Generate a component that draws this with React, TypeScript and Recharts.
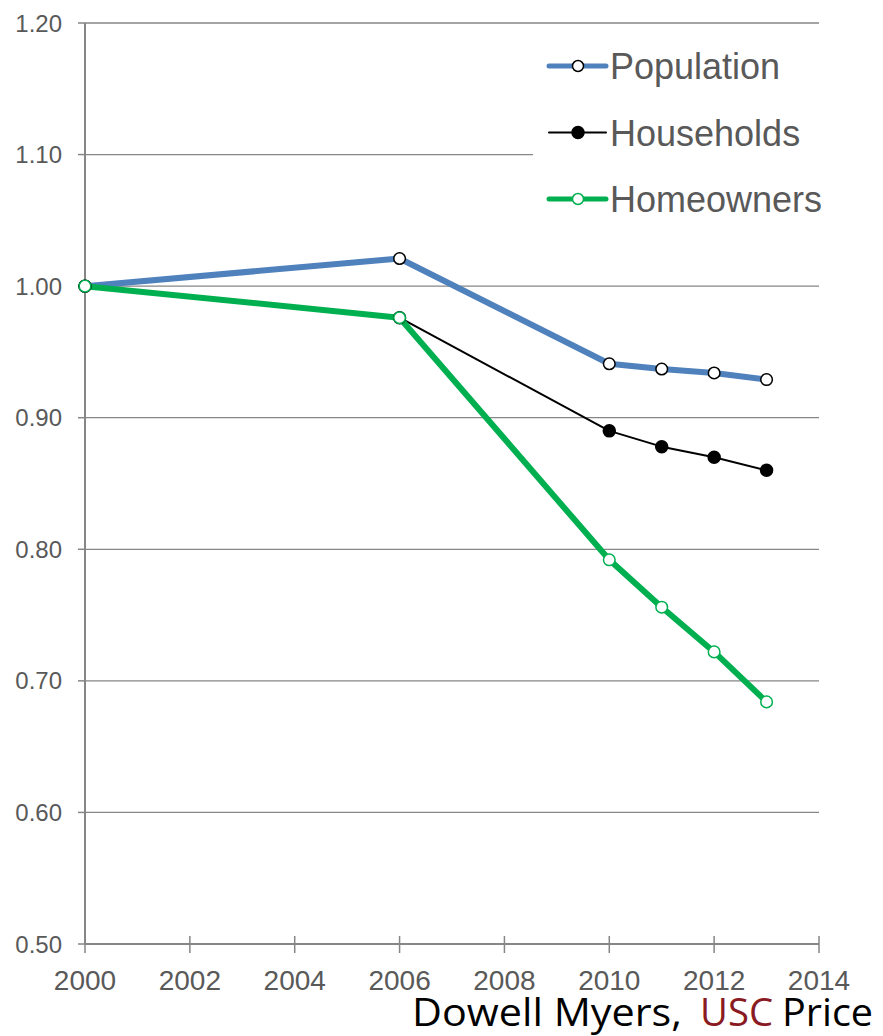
import { LineChart, Line, XAxis, YAxis, CartesianGrid, Legend } from 'recharts';

const years = [2000, 2006, 2010, 2011, 2012, 2013];
const population = [1.0, 1.021, 0.941, 0.937, 0.934, 0.929];
const households = [1.0, 0.976, 0.89, 0.878, 0.87, 0.86];
const homeowners = [1.0, 0.976, 0.792, 0.756, 0.722, 0.684];
const xTicks = [2000, 2002, 2004, 2006, 2008, 2010, 2012, 2014];
const yTicks = [0.5, 0.6, 0.7, 0.8, 0.9, 1.0, 1.1, 1.2];

const data = years.map((year, i) => ({
  year,
  population: population[i],
  households: households[i],
  homeowners: homeowners[i],
}));

const axisColor = '#868686';
const textColor = '#595959';
const font = '"Liberation Sans", Arial, sans-serif';

const series = [
  { key: 'population', name: 'Population', color: '#4F81BD', width: 6, dotFill: '#fff', dotStroke: '#000' },
  { key: 'households', name: 'Households', color: '#000', width: 2, dotFill: '#000', dotStroke: '#000' },
  { key: 'homeowners', name: 'Homeowners', color: '#00B050', width: 6, dotFill: '#fff', dotStroke: '#00B050' },
];

function XTick(props: any) {
  const { x, y, payload } = props;
  return (
    <g>
      <line x1={x} x2={x} y1={y - 8} y2={y + 9} stroke={axisColor} strokeWidth={1.5} />
      <text x={x} y={y + 46} textAnchor="middle" fill={textColor} fontSize={28} fontFamily={font}>
        {payload.value}
      </text>
    </g>
  );
}

function LegendBox() {
  return (
    <svg width={300} height={200}>
      {series.map((s, i) => {
        const cy = 33 + i * 66.5;
        return (
          <g key={s.key}>
            <line x1={16} x2={73} y1={cy} y2={cy} stroke={s.color} strokeWidth={s.width === 2 ? 2 : 5} strokeLinecap="round" />
            <circle cx={45} cy={cy} r={s.width === 2 ? 6 : 5.5} fill={s.dotFill} stroke={s.dotStroke} strokeWidth={1.5} />
            <text x={77} y={cy + 13} fill={textColor} fontSize={36} fontFamily={font}>
              {s.name}
            </text>
          </g>
        );
      })}
    </svg>
  );
}

export default function App() {
  return (
    <div style={{ position: 'absolute', left: 0, top: 0, width: 883, height: 1036, background: '#fff' }}>
      <LineChart width={883} height={1036} data={data} margin={{ top: 23, right: 64, left: 0, bottom: 42 }}>
        <CartesianGrid horizontal vertical={false} stroke={axisColor} strokeWidth={1.3} />
        <XAxis
          dataKey="year"
          type="number"
          domain={[2000, 2014]}
          ticks={xTicks}
          height={50}
          tickLine={false}
          tickSize={0}
          tickMargin={0}
          axisLine={{ stroke: axisColor, strokeWidth: 2 }}
          tick={<XTick />}
          interval={0}
        />
        <YAxis
          type="number"
          domain={[0.5, 1.2]}
          ticks={yTicks}
          width={85}
          interval={0}
          tickSize={7}
          tickMargin={16}
          tickFormatter={(v: number) => v.toFixed(2)}
          axisLine={{ stroke: axisColor, strokeWidth: 2 }}
          tickLine={{ stroke: axisColor, strokeWidth: 1.5 }}
          tick={{ fill: textColor, fontSize: 24, fontFamily: font }}
        />
        <Legend
          layout="vertical"
          align="center"
          verticalAlign="middle"
          content={<LegendBox />}
          wrapperStyle={{ left: 533, top: 33, width: 300, height: 200, backgroundColor: '#fff' }}
        />
        {series.map((s) => (
          <Line
            key={s.key}
            dataKey={s.key}
            name={s.name}
            stroke={s.color}
            strokeWidth={s.width}
            strokeLinejoin="round"
            dot={{ r: s.width === 2 ? 6 : 5.8, fill: s.dotFill, stroke: s.dotStroke, strokeWidth: 1.5 }}
            isAnimationActive={false}
          />
        ))}
      </LineChart>
      <svg
        width={883}
        height={60}
        style={{ position: 'absolute', left: 0, top: 976, pointerEvents: 'none' }}
      >
        <text y={50} fontSize={38} fontFamily='"Open Sans", "Noto Sans", sans-serif' fill="#000">
          <tspan x={412} textLength={270} lengthAdjust="spacingAndGlyphs">Dowell Myers,</tspan>
          <tspan x={700} textLength={73} lengthAdjust="spacingAndGlyphs" fill="#8A1A22">USC</tspan>
          <tspan x={782} textLength={91} lengthAdjust="spacingAndGlyphs">Price</tspan>
        </text>
      </svg>
    </div>
  );
}
